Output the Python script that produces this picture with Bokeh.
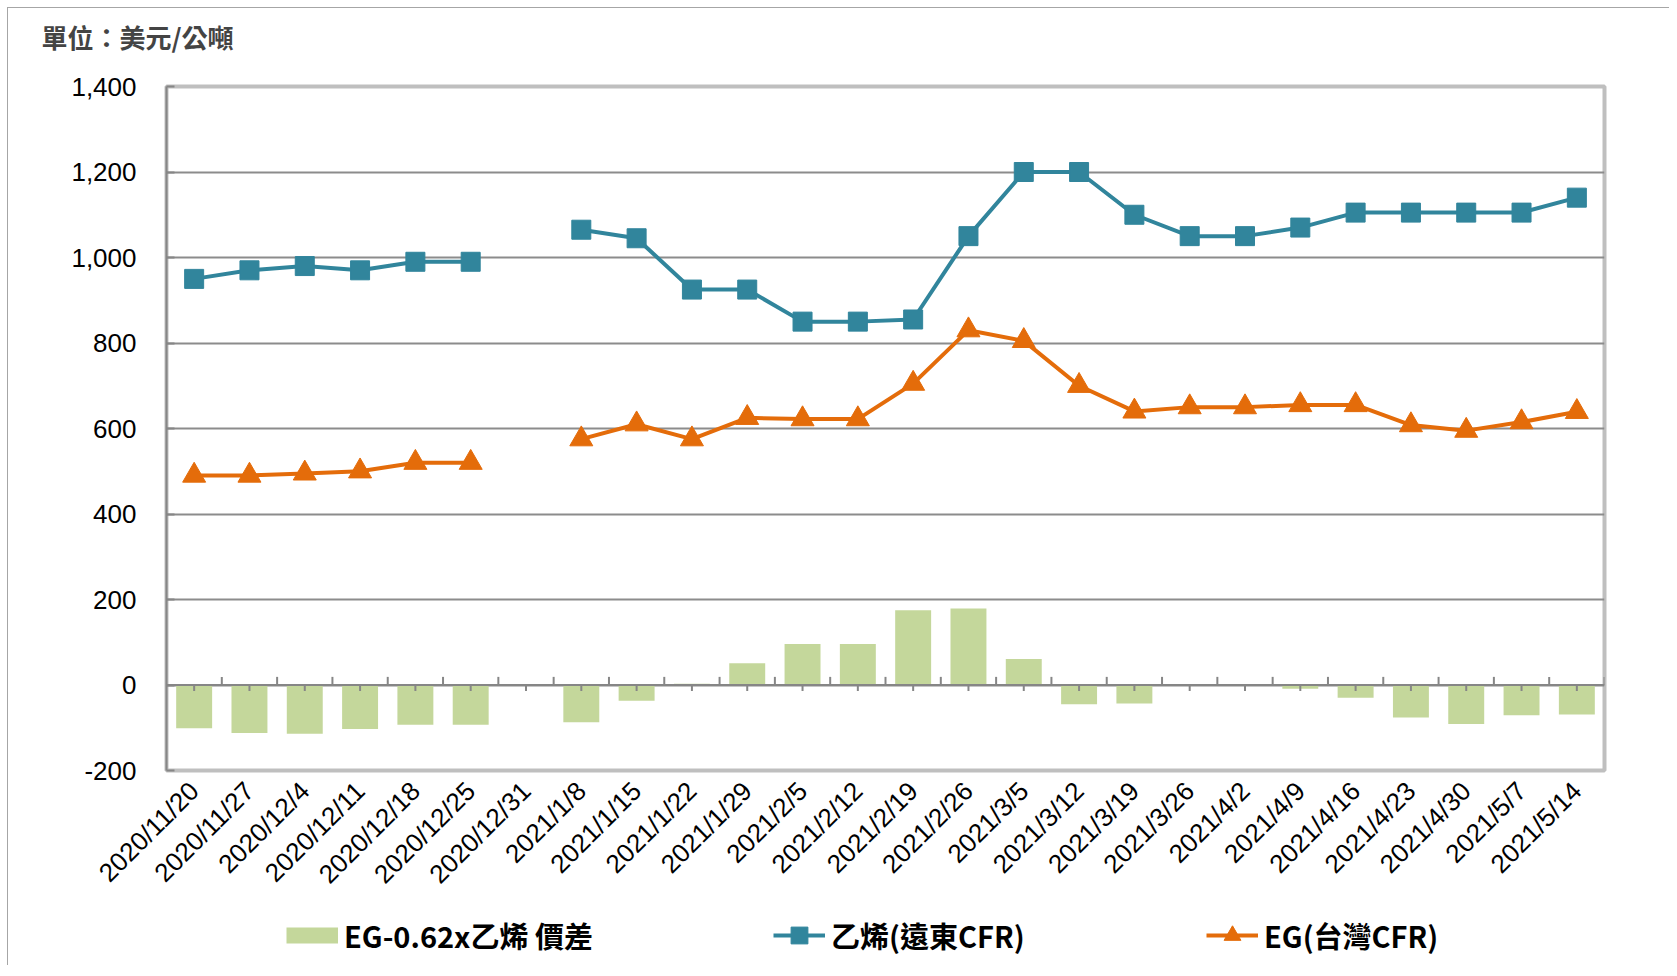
import math
from bokeh.plotting import figure
from bokeh.layouts import column
from bokeh.models import (ColumnDataSource, FactorRange, Range1d, Span, Legend,
                          LegendItem, FixedTicker, NumeralTickFormatter)
from bokeh.transform import dodge
from bokeh.embed import file_html
from bokeh.resources import INLINE

nan = float("nan")

dates = ["2020/11/20", "2020/11/27", "2020/12/4", "2020/12/11", "2020/12/18",
         "2020/12/25", "2020/12/31", "2021/1/8", "2021/1/15", "2021/1/22",
         "2021/1/29", "2021/2/5", "2021/2/12", "2021/2/19", "2021/2/26",
         "2021/3/5", "2021/3/12", "2021/3/19", "2021/3/26", "2021/4/2",
         "2021/4/9", "2021/4/16", "2021/4/23", "2021/4/30", "2021/5/7",
         "2021/5/14"]
ethylene = [950, 970, 980, 970, 990, 990, nan, 1065, 1045, 925, 925, 850, 850,
            855, 1050, 1200, 1200, 1100, 1050, 1050, 1070, 1105, 1105, 1105,
            1105, 1140]
eg = [490, 490, 495, 500, 520, 520, nan, 575, 610, 575, 625, 622, 622, 705,
      830, 805, 700, 640, 650, 650, 655, 655, 608, 595, 615, 639]
spread = [-101, -112, -114, -103, -93, -93, nan, -87, -37, 3, 51, 96, 96, 175,
          179, 61, -45, -43, 0, 0, -9, -30, -76, -91, -71, -69]
y_ticks = [-200, 0, 200, 400, 600, 800, 1000, 1200, 1400]

name_bar = "EG-0.62x乙烯 價差"
name_eth = "乙烯(遠東CFR)"
name_eg = "EG(台灣CFR)"
unit_text = "單位：美元/公噸"

GREEN = "#C4D79B"
TEAL = "#31859C"
ORANGE = "#E46C0A"
GRID = "#8C8C8C"
AXIS = "#868686"

src = ColumnDataSource(dict(d=dates, eth=ethylene, eg=eg, sp=spread))

p = figure(width=1661, height=897, output_backend="svg", toolbar_location=None,
           x_range=FactorRange(*dates, range_padding=0),
           y_range=Range1d(-200, 1400),
           min_border_left=158, min_border_right=65, min_border_top=78,
           min_border_bottom=135)
p.background_fill_color = "white"
p.border_fill_color = "white"
p.outline_line_color = "#BFBFBF"
p.outline_line_width = 4

# second (empty) line keeps the unit text high above the frame
p.title.text = unit_text + "\n"
p.title.text_font = "Noto Sans CJK TC"
p.title.text_font_size = "26px"
p.title.text_font_style = "bold"
p.title.text_line_height = 0.85
p.title.align = "left"
p.title.offset = -125
p.title.standoff = 0

# grid
p.xgrid.grid_line_color = None
p.ygrid.ticker = FixedTicker(ticks=[t for t in y_ticks if -200 < t < 1400])
p.ygrid.grid_line_color = GRID
p.ygrid.grid_line_width = 2

# y axis
p.yaxis.ticker = FixedTicker(ticks=y_ticks)
p.yaxis.formatter = NumeralTickFormatter(format="0,0")
p.yaxis.major_label_text_font = "Liberation Sans"
p.yaxis.major_label_text_font_size = "26px"
p.yaxis.major_label_text_color = "black"
p.yaxis.axis_line_color = AXIS
p.yaxis.axis_line_width = 2
p.yaxis.major_tick_in = 8
p.yaxis.major_tick_out = 0
p.yaxis.major_tick_line_color = AXIS
p.yaxis.major_tick_line_width = 2
p.yaxis.minor_tick_line_color = None
p.yaxis.major_label_standoff = 30

# x axis
p.xaxis.axis_line_color = None
p.xaxis.major_tick_line_color = None
p.xaxis.minor_tick_line_color = None
p.xaxis.major_label_orientation = math.pi / 4
p.xaxis.major_label_text_font = "Liberation Sans"
p.xaxis.major_label_text_font_size = "26px"
p.xaxis.major_label_text_color = "black"
p.xaxis.major_label_standoff = 10

# bars
p.vbar(x="d", top="sp", bottom=0, width=0.65, source=src,
       fill_color=GREEN, line_color=None)

# zero line with tick marks
p.add_layout(Span(location=0, dimension="width", line_color=AXIS, line_width=2))
p.segment(x0=dodge("d", 0.5, range=p.x_range), y0=0,
          x1=dodge("d", 0.5, range=p.x_range), y1=19, source=src,
          line_color=AXIS, line_width=2)
p.segment(x0="d", y0=0, x1="d", y1=-14, source=src,
          line_color=AXIS, line_width=2)

# lines
p.line(x="d", y="eth", source=src, line_color=TEAL, line_width=4)
p.scatter(x="d", y="eth", source=src, marker="square", size=19,
          fill_color=TEAL, line_color=TEAL)
p.line(x="d", y="eg", source=src, line_color=ORANGE, line_width=4)
p.scatter(x="d", y="eg", source=src, marker="triangle", size=23,
          fill_color=ORANGE, line_color=ORANGE)

# legend strip (frame is aligned with the main frame by the column layout)
q = figure(width=1661, height=60, output_backend="svg", toolbar_location=None,
           x_range=Range1d(0, 1), y_range=Range1d(0, 1),
           x_axis_location=None, y_axis_location=None, min_border=0)
q.grid.visible = False
q.outline_line_color = None
q.background_fill_color = "white"
q.border_fill_color = "white"

blank = ColumnDataSource(dict(x=[nan], y=[nan]))
k_bar = q.line(x="x", y="y", source=blank, line_color=GREEN, line_width=16)
k_eth_l = q.line(x="x", y="y", source=blank, line_color=TEAL, line_width=4)
k_eth_m = q.scatter(x="x", y="y", source=blank, marker="square",
                    fill_color=TEAL, line_color=TEAL)
k_eg_l = q.line(x="x", y="y", source=blank, line_color=ORANGE, line_width=4)
k_eg_m = q.scatter(x="x", y="y", source=blank, marker="triangle",
                   fill_color=ORANGE, line_color=ORANGE)


def make_legend(label, renderers, x):
    lg = Legend(items=[LegendItem(label=label, renderers=renderers)],
                location=(x, 9))
    lg.label_text_font = "Noto Sans CJK TC"
    lg.label_text_font_size = "29px"
    lg.label_text_font_style = "bold"
    lg.label_text_color = "black"
    lg.glyph_width = 52
    lg.glyph_height = 42
    lg.label_height = 42
    lg.label_standoff = 6
    lg.border_line_color = None
    lg.background_fill_color = None
    lg.padding = 0
    lg.margin = 0
    q.add_layout(lg)


make_legend(name_bar, [k_bar], 120)
make_legend(name_eth, [k_eth_l, k_eth_m], 607)
make_legend(name_eg, [k_eg_l, k_eg_m], 1040)

layout = column(p, q, spacing=0)
layout.styles = {"margin-left": "7px", "margin-top": "7px",
                 "border-left": "1px solid #A6A6A6",
                 "border-top": "1px solid #A6A6A6"}

open("out.html", "w").write(file_html(layout, INLINE))
